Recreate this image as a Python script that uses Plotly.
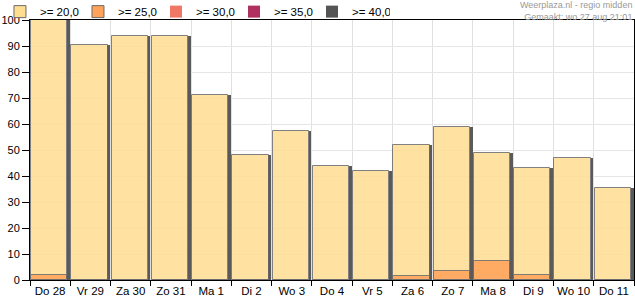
import plotly.graph_objects as go

categories = ["Do 28", "Vr 29", "Za 30", "Zo 31", "Ma 1", "Di 2", "Wo 3", "Do 4",
              "Vr 5", "Za 6", "Zo 7", "Ma 8", "Di 9", "Wo 10", "Do 11"]
ge20 = [100, 90.5, 94, 94, 71, 48, 57.5, 44, 42, 52, 59, 49, 43, 47, 35.5]
ge25 = [1.9, 0, 0, 0, 0, 0, 0, 0, 0, 1.7, 3.6, 7.4, 1.8, 0, 0]
ge30 = [0] * 15
ge35 = [0] * 15
ge40 = [0] * 15

series = [
    (">= 20,0", ge20, "#FFDE92"),
    (">= 25,0", ge25, "#FFA25A"),
    (">= 30,0", ge30, "#EE7766"),
    (">= 35,0", ge35, "#B03060"),
    (">= 40,0", ge40, "#555555"),
]

FONT = "Liberation Sans, Arial, sans-serif"

fig = go.Figure()
for name, vals, col in series:
    # drop shadow strip on the right side of each bar
    fig.add_trace(go.Bar(
        x=categories, y=vals, offset=0.42, width=0.07,
        marker=dict(color="#5a5a5a", line=dict(width=0)),
        showlegend=False, hoverinfo="skip",
    ))
    fig.add_trace(go.Bar(
        x=categories, y=vals, name=name, offset=-0.475, width=0.9,
        marker=dict(color=col, opacity=0.85,
                    line=dict(color="#6a6a6a", width=1 if max(vals) > 0 else 0)),
    ))

fig.update_layout(
    width=635, height=300,
    margin=dict(l=30, r=1, t=20, b=20, autoexpand=False),
    barmode="overlay",
    plot_bgcolor="white", paper_bgcolor="white",
    font=dict(family=FONT, size=11, color="#000"),
    legend=dict(orientation="h", x=-0.0497, xanchor="left",
                y=1.088, yanchor="top",
                font=dict(size=11.5), entrywidth=33, entrywidthmode="pixels",
                bgcolor="rgba(0,0,0,0)", itemclick=False, traceorder="normal"),
    bargap=0,
)
fig.update_xaxes(
    type="category", tickson="boundaries", ticks="outside", ticklen=5,
    tickcolor="#000", showgrid=True, gridcolor="#e0e0e0", gridwidth=1,
    showline=True, linecolor="#000", linewidth=1, mirror=True,
    tickfont=dict(size=11.5), range=[-0.5, 14.5], tickangle=0, automargin=False,
)
fig.update_yaxes(
    range=[0, 100], dtick=10, ticks="outside", ticklen=7, tickcolor="#000",
    showgrid=True, gridcolor="#e6e6e6", gridwidth=1,
    showline=True, linecolor="#000", linewidth=1, mirror=True,
    tickfont=dict(size=11), zeroline=False, automargin=False,
)
fig.add_annotation(text="Weerplaza.nl - regio midden<br>Gemaakt: wo 27 aug 21:01",
                   xref="paper", yref="paper",
                   x=0.998, y=1.0769, xanchor="right", yanchor="top", align="right",
                   showarrow=False, borderpad=0, yshift=1,
                   font=dict(size=9, color="#999999"))

fig.write_html("out.html")
